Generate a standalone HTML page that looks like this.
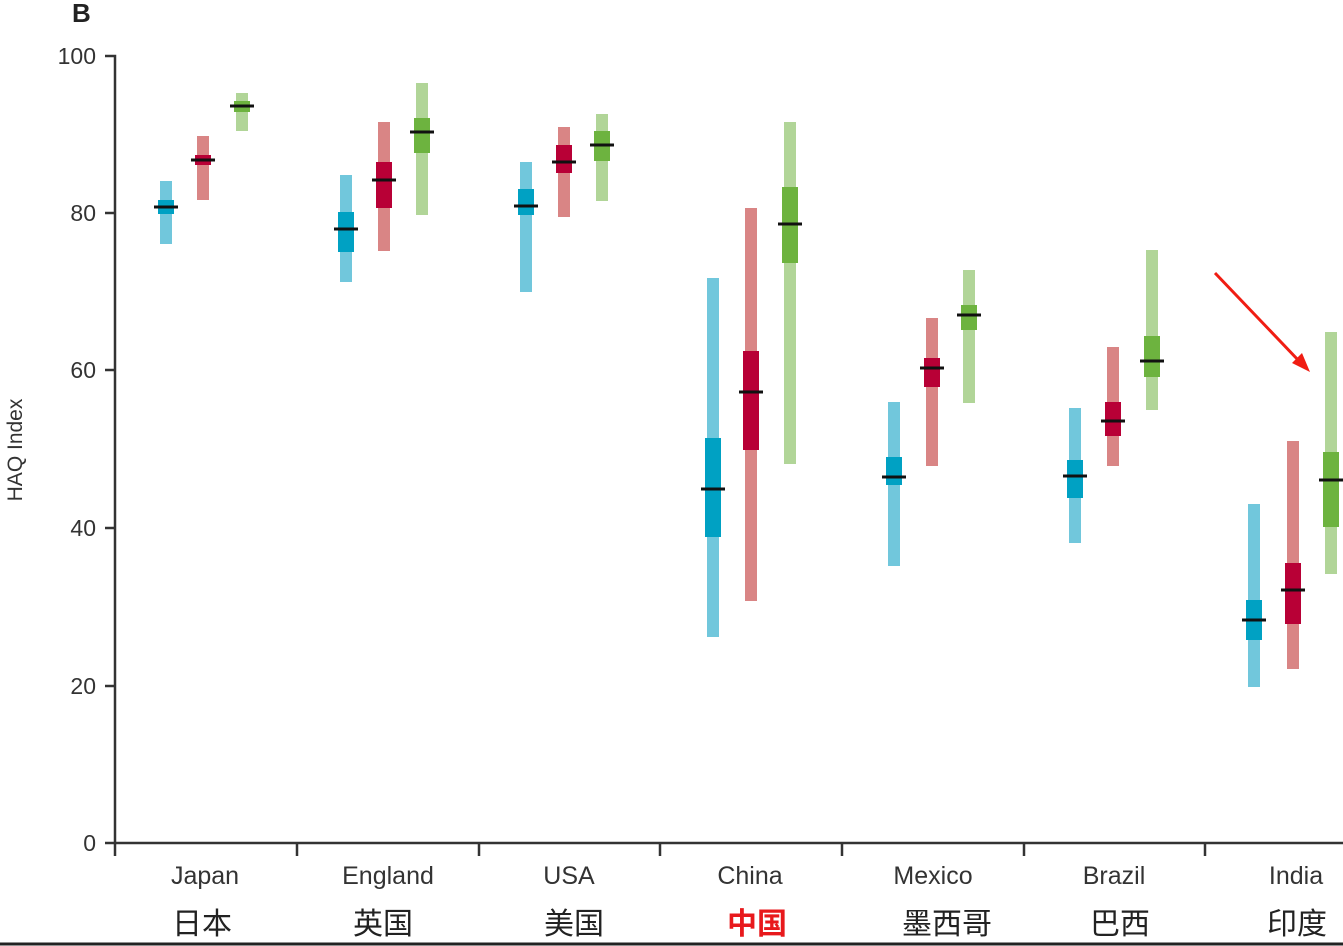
<!DOCTYPE html><html><head><meta charset="utf-8"><style>body{margin:0;background:#fff}svg{display:block}</style></head><body>
<svg width="1343" height="946" xmlns="http://www.w3.org/2000/svg" font-family="Liberation Sans, sans-serif">
<text x="72" y="22" font-size="26" font-weight="bold" fill="#222">B</text>
<g stroke="#333" stroke-width="2.5" fill="none">
<path d="M105 56H115V843H1343"/>
<path d="M105 213H115M105 370H115M105 528H115M105 686H115M105 843H115"/>
<path d="M115 843V856M297 843V856M479 843V856M660 843V856M842 843V856M1024 843V856M1205 843V856"/>
</g>
<g font-size="23" fill="#333" text-anchor="end">
<text x="96" y="64">100</text><text x="96" y="221">80</text><text x="96" y="378">60</text><text x="96" y="536">40</text><text x="96" y="694">20</text><text x="96" y="851">0</text>
</g>
<text transform="translate(22,450) rotate(-90)" font-size="21" fill="#333" text-anchor="middle">HAQ Index</text>
<g font-size="25" fill="#333" text-anchor="middle">
<text x="205" y="884">Japan</text><text x="388" y="884">England</text><text x="569" y="884">USA</text><text x="750" y="884">China</text><text x="933" y="884">Mexico</text><text x="1114" y="884">Brazil</text><text x="1296" y="884">India</text>
</g>
<g font-size="30" fill="#222" text-anchor="middle" font-family="Liberation Sans, Noto Sans CJK SC, sans-serif">
<text x="202" y="934">日本</text><text x="383" y="934">英国</text><text x="574" y="934">美国</text><text x="757" y="934" fill="#e8191c" font-weight="bold">中国</text><text x="947" y="934">墨西哥</text><text x="1120" y="934">巴西</text><text x="1297" y="934">印度</text>
</g>
<g fill="#71c7dc">
<rect x="160" y="181" width="12" height="63"/><rect x="340" y="175" width="12" height="107"/><rect x="520" y="162" width="12" height="130"/><rect x="707" y="278" width="12" height="359"/><rect x="888" y="402" width="12" height="164"/><rect x="1069" y="408" width="12" height="135"/><rect x="1248" y="504" width="12" height="183"/>
</g>
<g fill="#00a1c3">
<rect x="158" y="200" width="16" height="14"/><rect x="338" y="212" width="16" height="40"/><rect x="518" y="189" width="16" height="26"/><rect x="705" y="438" width="16" height="99"/><rect x="886" y="457" width="16" height="28"/><rect x="1067" y="460" width="16" height="38"/><rect x="1246" y="600" width="16" height="40"/>
</g>
<g fill="#d98585">
<rect x="197" y="136" width="12" height="64"/><rect x="378" y="122" width="12" height="129"/><rect x="558" y="127" width="12" height="90"/><rect x="745" y="208" width="12" height="393"/><rect x="926" y="318" width="12" height="148"/><rect x="1107" y="347" width="12" height="119"/><rect x="1287" y="441" width="12" height="228"/>
</g>
<g fill="#b80036">
<rect x="195" y="155" width="16" height="10"/><rect x="376" y="162" width="16" height="46"/><rect x="556" y="145" width="16" height="28"/><rect x="743" y="351" width="16" height="99"/><rect x="924" y="358" width="16" height="29"/><rect x="1105" y="402" width="16" height="34"/><rect x="1285" y="563" width="16" height="61"/>
</g>
<g fill="#b1d598">
<rect x="236" y="93" width="12" height="38"/><rect x="416" y="83" width="12" height="132"/><rect x="596" y="114" width="12" height="87"/><rect x="784" y="122" width="12" height="342"/><rect x="963" y="270" width="12" height="133"/><rect x="1146" y="250" width="12" height="160"/><rect x="1325" y="332" width="12" height="242"/>
</g>
<g fill="#6db33f">
<rect x="234" y="101" width="16" height="11"/><rect x="414" y="118" width="16" height="35"/><rect x="594" y="131" width="16" height="30"/><rect x="782" y="187" width="16" height="76"/><rect x="961" y="305" width="16" height="25"/><rect x="1144" y="336" width="16" height="41"/><rect x="1323" y="452" width="16" height="75"/>
</g>
<g fill="#111">
<rect x="154" y="205.5" width="24" height="3"/><rect x="191" y="158.5" width="24" height="3"/><rect x="230" y="104.5" width="24" height="3"/>
<rect x="334" y="227.5" width="24" height="3"/><rect x="372" y="178.5" width="24" height="3"/><rect x="410" y="130.5" width="24" height="3"/>
<rect x="514" y="204.5" width="24" height="3"/><rect x="552" y="160.5" width="24" height="3"/><rect x="590" y="143.5" width="24" height="3"/>
<rect x="701" y="487.5" width="24" height="3"/><rect x="739" y="390.5" width="24" height="3"/><rect x="778" y="222.5" width="24" height="3"/>
<rect x="882" y="475.5" width="24" height="3"/><rect x="920" y="366.5" width="24" height="3"/><rect x="957" y="313.5" width="24" height="3"/>
<rect x="1063" y="474.5" width="24" height="3"/><rect x="1101" y="419.5" width="24" height="3"/><rect x="1140" y="359.5" width="24" height="3"/>
<rect x="1242" y="618.5" width="24" height="3"/><rect x="1281" y="588.5" width="24" height="3"/><rect x="1319" y="478.5" width="24" height="3"/>
</g>
<line x1="1215" y1="273" x2="1300" y2="362" stroke="#f01d13" stroke-width="3"/>
<polygon points="1310,372 1292,363 1302,353" fill="#f01d13"/>
<line x1="0" y1="944" x2="1343" y2="944" stroke="#222" stroke-width="3"/>
</svg></body></html>
